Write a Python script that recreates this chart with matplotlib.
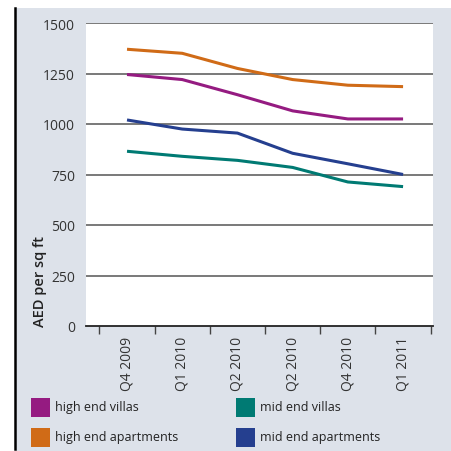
import matplotlib
matplotlib.use("Agg")
import matplotlib.pyplot as plt
from matplotlib.patches import Rectangle
from matplotlib.lines import Line2D
import numpy as np

plt.rcParams['font.family'] = ['Open Sans', 'DejaVu Sans']

quarters = ["Q4 2009", "Q1 2010", "Q2 2010", "Q2 2010", "Q4 2010", "Q1 2011"]
high_end_villas = [1245, 1220, 1145, 1065, 1025, 1025]
high_end_apartments = [1370, 1350, 1275, 1220, 1192, 1185]
mid_end_villas = [865, 840, 820, 785, 713, 690]
mid_end_apartments = [1020, 975, 955, 855, 803, 750]
y_ticks = [0, 250, 500, 750, 1000, 1250, 1500]

series = [
    ("high end villas", high_end_villas, "#951b81"),
    ("high end apartments", high_end_apartments, "#d06b17"),
    ("mid end villas", mid_end_villas, "#007a73"),
    ("mid end apartments", mid_end_apartments, "#253f8f"),
]

W = H = 452
fig = plt.figure(figsize=(4.52, 4.52), dpi=100)
fig.patch.set_facecolor("white")
bg = "#dde2ea"
fig.patches.append(Rectangle((15 / W, 0), 1 - 15 / W, 1 - 9 / H, transform=fig.transFigure,
                             facecolor=bg, edgecolor="none", zorder=-10))
fig.lines.append(Line2D([15.5 / W, 15.5 / W], [2 / H, 1 - 9 / H], transform=fig.transFigure,
                        color="black", lw=1.8, zorder=-5))

ax = fig.add_axes([86 / W, 1 - 327 / H, (433 - 86) / W, (327 - 24) / H])
ax.set_zorder(5)
ax.set_facecolor("white")
x = np.arange(len(quarters))
for name, vals, col in series:
    ax.plot(x, vals, color=col, lw=2.2, solid_capstyle="butt", zorder=3)

ax.set_xlim(-0.743, 5.542)
ax.set_ylim(0, 1500)
ax.set_yticks(y_ticks)
ax.set_yticklabels([str(v) for v in y_ticks], fontsize=10, color="#333333")
ax.tick_params(axis="y", length=0, pad=8)
for v in y_ticks[1:]:
    ax.axhline(v, color="#555555", lw=1.1, zorder=2)

ax.set_xticks(x)
ax.set_xticklabels(quarters, rotation=90, fontsize=10, color="#333333")
ax.tick_params(axis="x", which="major", length=0, pad=7)
ax.set_xticks(np.arange(-0.5, 6.0, 1.0), minor=True)
ax.tick_params(axis="x", which="minor", length=6, width=1, color="#444444", direction="out")

for s in ["top", "right", "left"]:
    ax.spines[s].set_visible(False)
ax.spines["bottom"].set_color("#222222")
ax.spines["bottom"].set_linewidth(1.3)
ax.spines["bottom"].set_zorder(4)

fig.text(40 / W, 1 - 327 / H, "AED per sq ft", rotation=90, ha="center", va="bottom",
         fontsize=10.5, fontweight="semibold", color="#222222")

# legend
pos = [(31, 408), (31, 438), (236, 408), (236, 438)]
for (px, py), (name, vals, col) in zip(pos, series):
    fig.patches.append(Rectangle((px / W, 1 - (py + 9.5) / H), 19 / W, 19 / H,
                                 transform=fig.transFigure, facecolor=col, edgecolor="none"))
    fig.text((px + 24) / W, 1 - py / H, name, ha="left", va="center", fontsize=9, color="#222222")

fig.savefig("out.png", dpi=100, facecolor=fig.get_facecolor())
